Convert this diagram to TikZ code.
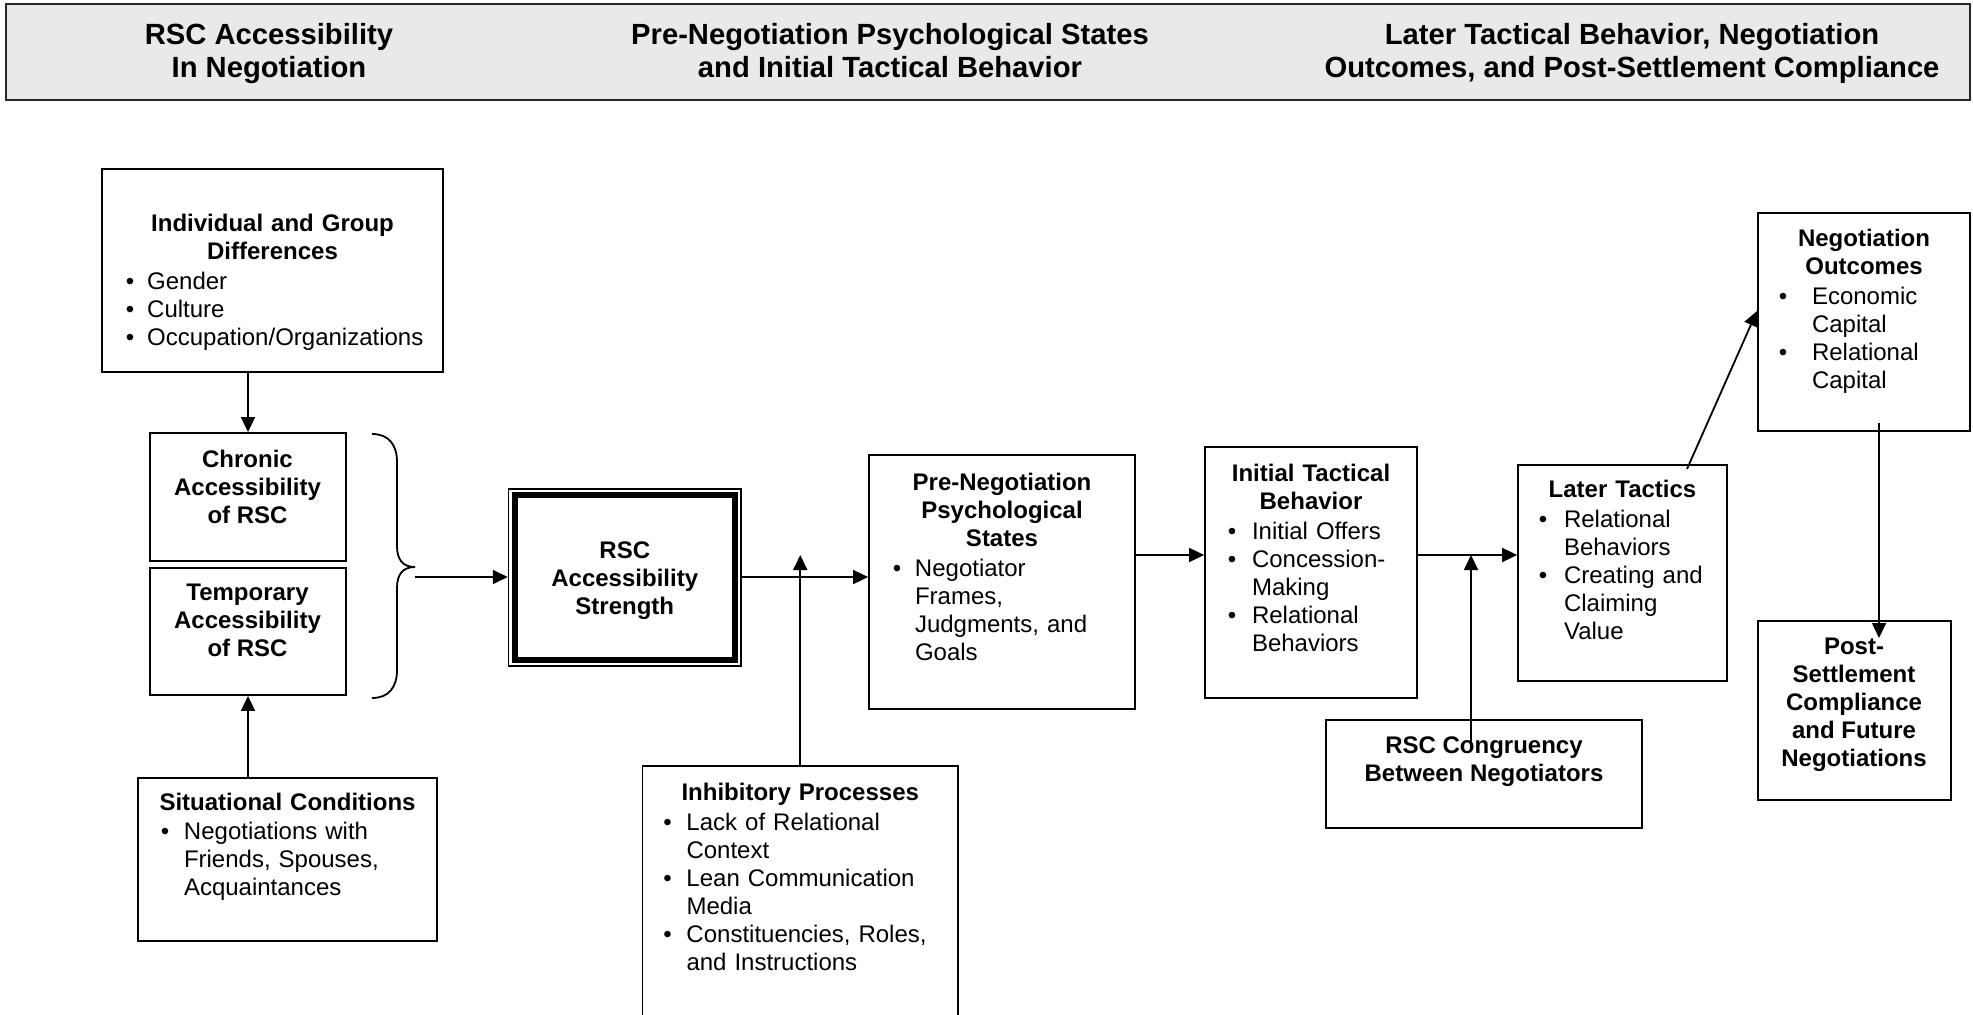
\documentclass[tikz,border=0pt]{standalone}
\usepackage{fontspec}
\setmainfont{Liberation Sans}
\usetikzlibrary{arrows.meta,fit}
\definecolor{hdrgray}{RGB}{233,233,233}
\newcommand{\bul}[3]{\par\noindent\hangindent=#2\hangafter=1\makebox[#2][l]{\hspace*{#1}\textbullet}#3\par}
\newcommand{\boxtitle}[1]{{\centering\bfseries #1\par}\vspace{0.8pt}}
\begin{document}
\begin{tikzpicture}[x=0.5pt,y=-0.5pt,
  box/.style={draw, line width=0.9pt, inner sep=0pt},
  arr/.style={line width=0.9pt, -{Triangle[length=7.5pt,width=7pt]}},
  txt/.style={inner sep=0pt, anchor=north, align=left, font=\fontsize{12}{14}\selectfont},
  ttl/.style={inner sep=0pt, anchor=north, align=center, font=\bfseries\fontsize{12}{14}\selectfont},
  hdrtxt/.style={inner sep=0pt, anchor=north, align=center, font=\bfseries\fontsize{14.6}{16.4}\selectfont}]

\useasboundingbox (0,0) rectangle (1973,1015);

% header band
\node[fit={(6,4) (1970,100)}, draw=black!85, line width=1.3pt, fill=hdrgray, inner sep=0pt] (hdr) {};
\node[hdrtxt] (h1) at (269,23) {RSC Accessibility\\In Negotiation};
\node[hdrtxt] (h2) at (890,23) {Pre-Negotiation Psychological States\\and Initial Tactical Behavior};
\node[hdrtxt] (h3) at (1632,23) {Later Tactical Behavior, Negotiation\\Outcomes, and Post-Settlement Compliance};

% boxes
\node[box, fit={(102,169) (443,372)}] (ind) {};
\node[box, fit={(150,433) (346,561)}] (chr) {};
\node[box, fit={(150,568) (346,695)}] (tmp) {};
\node[box, fit={(138,778) (437,941)}] (sit) {};
\node[box, fit={(508.5,489) (741,666)}, line width=0.75pt] (rsc) {};
\draw[line width=3pt] ([shift={(7,7)}]rsc.north west) rectangle ([shift={(-7,-7)}]rsc.south east);
\node[box, fit={(642.5,766) (958,1040)}] (inh) {};
\node[box, fit={(869,455) (1135,709)}] (pre) {};
\node[box, fit={(1205,447) (1417,698)}] (ini) {};
\node[box, fit={(1518,465) (1727,681)}] (lat) {};
\node[box, fit={(1326,720) (1642,828)}] (con) {};
\node[box, fit={(1758,213) (1970,431)}] (out) {};
\node[box, fit={(1758,621) (1951,800)}] (pst) {};

% texts
\node[txt, text width=166.5pt] (ind-t) at (272.5,214) {\boxtitle{Individual and Group\par Differences}\bul{9.9pt}{20.6pt}{Gender}\bul{9.9pt}{20.6pt}{Culture}\bul{9.9pt}{20.6pt}{Occupation/Organizations}};
\node[ttl] (chr-t) at (247.5,449.5) {Chronic\\Accessibility\\of RSC};
\node[ttl] (tmp-t) at (247.5,584) {Temporary\\Accessibility\\of RSC};
\node[ttl] (rsc-t) at (624.75,541) {RSC\\Accessibility\\Strength};
\node[txt, text width=145.5pt] (sit-t) at (287.5,792.5) {\boxtitle{Situational Conditions}\bul{9.4pt}{21pt}{Negotiations with\newline Friends, Spouses,\newline Acquaintances}};
\node[txt, text width=153.75pt] (inh-t) at (800.25,783) {\boxtitle{Inhibitory Processes}\bul{8.4pt}{20pt}{Lack of Relational\newline Context}\bul{8.4pt}{20pt}{Lean Communication\newline Media}\bul{8.4pt}{20pt}{Constituencies, Roles,\newline and Instructions}};
\node[txt, text width=129pt] (pre-t) at (1002,473) {\boxtitle{Pre-Negotiation\par Psychological\par States}\bul{9.9pt}{21pt}{Negotiator\newline Frames,\newline Judgments, and\newline Goals}};
\node[txt, text width=102pt] (ini-t) at (1311,464) {\boxtitle{Initial Tactical\par Behavior}\bul{9.4pt}{21.5pt}{Initial Offers}\bul{9.4pt}{21.5pt}{Concession-\newline Making}\bul{9.4pt}{21.5pt}{Relational\newline Behaviors}};
\node[txt, text width=100.5pt] (lat-t) at (1622.5,480) {\boxtitle{Later Tactics}\bul{8.4pt}{21pt}{Relational\newline Behaviors}\bul{8.4pt}{21pt}{Creating and\newline Claiming\newline Value}};
\node[txt, text width=102pt] (out-t) at (1864,229) {\boxtitle{Negotiation\par Outcomes}\bul{8.4pt}{25pt}{Economic\newline Capital}\bul{8.4pt}{25pt}{Relational\newline Capital}};
\node[ttl] (pst-t) at (1854,638) {Post-\\Settlement\\Compliance\\and Future\\Negotiations};
\node[ttl] (con-t) at (1484,736) {RSC Congruency\\Between Negotiators};

% brace
\draw[line width=0.9pt] (372,434) .. controls (389,434) and (397,445) .. (397,462) -- (397,546) .. controls (397,560) and (403,567) .. (415,567) .. controls (403,567) and (397,574) .. (397,588) -- (397,670) .. controls (397,687) and (389,698) .. (372,698);
\coordinate (btip) at (415,577);

% connectors
\draw[arr] (chr.north |- ind.south) -- (chr.north);
\draw[arr] (tmp.south |- sit.north) -- (tmp.south);
\draw[arr] (btip) -- (rsc.west |- btip);
\draw[arr] (rsc.east |- btip) -- (pre.west |- btip);
\coordinate (inhtip) at (800.25,555);
\draw[arr] (inh.north) -- (inhtip);
\coordinate (row2) at (0,555);
\draw[arr] (pre.east |- row2) -- (ini.west |- row2);
\draw[arr] (ini.east |- row2) -- (lat.west |- row2);
\coordinate (contail) at (1471,742);
\draw[arr] (contail) -- (contail |- row2);
\coordinate (lattail) at (1687,469);
\coordinate (outtip) at (1757,311);
\draw[arr] (lattail) -- (outtip);
\coordinate (outtail) at (1879,423);
\coordinate (psttip) at (1879,638);
\draw[arr] (outtail) -- (psttip);
\end{tikzpicture}
\end{document}
